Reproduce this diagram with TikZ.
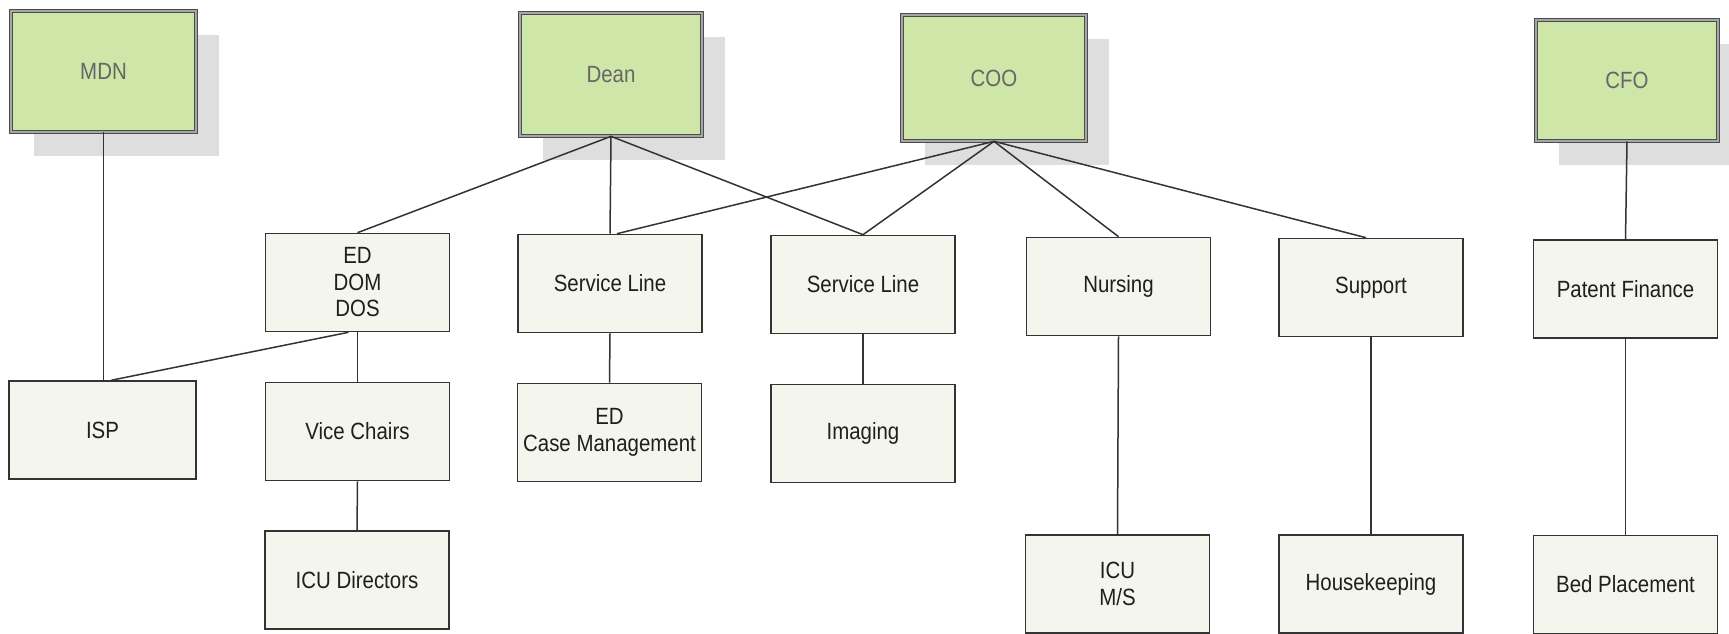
\documentclass[tikz,border=0pt]{standalone}
\usepackage{fontspec}
\setmainfont[FakeStretch=0.87]{Liberation Sans}
\usetikzlibrary{shadows}
\definecolor{topgreen}{RGB}{206,230,168}
\definecolor{boxfill}{RGB}{244,246,237}
\definecolor{shadowgray}{RGB}{222,222,222}
\begin{document}
\begin{tikzpicture}[x=1pt,y=-1pt,
  font=\fontsize{23.5}{26.5}\selectfont,
  topbox/.style={rectangle, fill=topgreen, draw=black!70, double=black!35,
    double distance=2.2pt, line width=0.7pt, minimum width=182pt,
    minimum height=121pt, text=black!60,
    drop shadow={shadow xshift=23pt, shadow yshift=-24pt, fill=shadowgray, opacity=1}},
  unitbox/.style={rectangle, fill=boxfill, draw=black!80, line width=1.6pt,
    minimum width=184pt, minimum height=98pt, align=center, text=black!88},
  link/.style={draw=black!80, line width=1.5pt}]
\useasboundingbox[fill=white] (0,0) rectangle (1729,634);

% top level
\node[topbox, minimum width=185pt] (MDN) at (103.5,71.5) {MDN};
\node[topbox, minimum height=123pt] (Dean) at (611,74.5) {Dean};
\node[topbox, minimum width=184pt, minimum height=126pt] (COO) at (994,78) {COO};
\node[topbox] (CFO) at (1627,80.5) {CFO};

% second level
\node[unitbox] (ED) at (357.5,282.5) {ED\\DOM\\DOS};
\node[unitbox] (SLa) at (610,283.5) {Service Line};
\node[unitbox] (SLb) at (863,284.5) {Service Line};
\node[unitbox] (Nurs) at (1118.5,286.5) {Nursing};
\node[unitbox] (Supp) at (1371,287.5) {Support};
\node[unitbox] (PF) at (1625.5,289) {Patent Finance};

% third level
\node[unitbox, minimum width=187pt] (ISP) at (102.5,430) {ISP};
\node[unitbox] (VC) at (357.5,431.5) {Vice Chairs};
\node[unitbox] (EDCM) at (609.5,432.5) {ED\\Case Management};
\node[unitbox] (Img) at (863,433.5) {Imaging};

% fourth level
\node[unitbox] (ICUD) at (357,580) {ICU Directors};
\node[unitbox] (ICUMS) at (1117.5,584) {ICU\\M/S};
\node[unitbox] (HK) at (1371,584) {Housekeeping};
\node[unitbox] (BP) at (1625.5,584.5) {Bed Placement};

% connectors
\draw[link] (MDN.south) -- (MDN.south |- ISP.north);
\draw[link] (Dean.south) -- (ED.north);
\draw[link] (Dean.south) -- (SLa.north);
\draw[link] (Dean.south) -- (SLb.north);
\draw[link] (COO.south) -- ([xshift=7pt]SLa.north);
\draw[link] (COO.south) -- (SLb.north);
\draw[link] (COO.south) -- (Nurs.north);
\draw[link] (COO.south) -- ([xshift=-5pt]Supp.north);
\draw[link] (CFO.south) -- (PF.north);
\draw[link] ([xshift=-9pt]ED.south) -- ([xshift=9pt]ISP.north);
\draw[link] (ED.south) -- (VC.north);
\draw[link] (VC.south) -- (ICUD.north);
\draw[link] (SLa.south) -- (EDCM.north);
\draw[link] (SLb.south) -- (Img.north);
\draw[link] (Nurs.south) -- (ICUMS.north);
\draw[link] (Supp.south) -- (HK.north);
\draw[link] (PF.south) -- (BP.north);
\end{tikzpicture}
\end{document}
